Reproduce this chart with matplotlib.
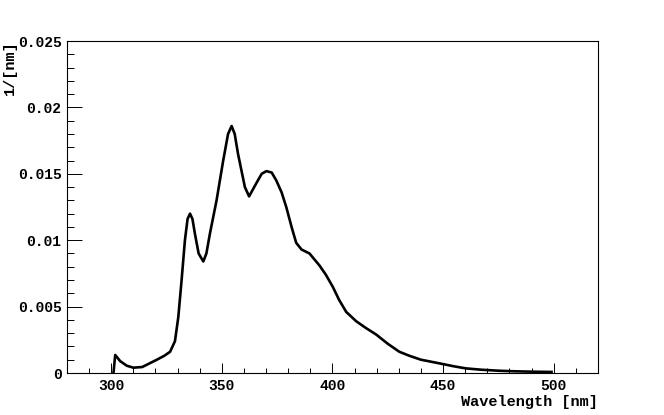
import matplotlib.pyplot as plt
from matplotlib.ticker import MultipleLocator

# ===== Daten =====
wavelength = [301, 301.8, 304, 307, 310, 314, 317, 320.6, 324, 326.6, 328.8, 330.3,
              331.8, 333.3, 334.5, 335.6, 336.7, 337.8, 339.5, 341.6, 343, 344.6,
              347.6, 350.6, 352.8, 354.4, 355.8, 357.3, 360.4, 362.3, 365.6, 368,
              370.1, 372.5, 374.6, 377, 379.1, 381.5, 383.6, 386, 389.6, 394.1, 397,
              400.1, 403, 406.2, 410.7, 415, 419.7, 425, 430.2, 434.7, 440, 448.2,
              455, 460.2, 467, 475.2, 482, 490, 499]
intensity = [0, 0.00136, 0.0009, 0.00055, 0.0004, 0.00045, 0.0007, 0.0010, 0.0013,
             0.0016, 0.0024, 0.0042, 0.0070, 0.0100, 0.0116, 0.0120, 0.0116, 0.0105,
             0.0090, 0.0084, 0.0090, 0.0105, 0.0130, 0.0160, 0.0180, 0.0186, 0.0180,
             0.0165, 0.0140, 0.0133, 0.0143, 0.0150, 0.0152, 0.0151, 0.0145, 0.0136,
             0.0125, 0.0110, 0.0098, 0.0093, 0.0090, 0.0081, 0.0074, 0.0065, 0.0055,
             0.0046, 0.0039, 0.0034, 0.0029, 0.0022, 0.0016, 0.0013, 0.0010, 0.00073,
             0.0005, 0.00035, 0.00025, 0.00017, 0.00013, 0.0001, 0.00008]

y_ticks = [0, 0.005, 0.01, 0.015, 0.02, 0.025]
y_tick_labels = ["0", "0.005", "0.01", "0.015", "0.02", "0.025"]
x_ticks = [300, 350, 400, 450, 500]

font = "Liberation Mono"

# ===== Plot =====
fig = plt.figure(figsize=(6.64, 4.15), dpi=100)
ax = fig.add_axes([0.1009, 0.1012, 0.7997, 0.8000])
ax.plot(wavelength, intensity, color="black", lw=1.9)

ax.set_xlim(280, 520)
ax.set_ylim(0, 0.025)

ax.set_xticks(x_ticks)
ax.xaxis.set_minor_locator(MultipleLocator(10))
ax.set_yticks(y_ticks)
ax.set_yticklabels(y_tick_labels)
ax.yaxis.set_minor_locator(MultipleLocator(0.001))

ax.tick_params(axis="both", which="both", direction="in", top=False, right=False,
               width=0.7, color="black")
ax.tick_params(axis="y", which="major", length=10.8, pad=4)
ax.tick_params(axis="y", which="minor", length=5)
ax.tick_params(axis="x", which="major", length=7.2, pad=4)
ax.tick_params(axis="x", which="minor", length=3.6)

for lab in ax.get_xticklabels() + ax.get_yticklabels():
    lab.set_fontfamily(font)
    lab.set_fontweight("bold")
    lab.set_fontsize(10.5)

for s in ax.spines.values():
    s.set_linewidth(0.8)

# ===== Achsenbeschriftung =====
ax.set_xlabel("Wavelength [nm]", fontfamily=font, fontweight="bold", fontsize=11)
ax.xaxis.set_label_coords(1.0, -0.065)
ax.xaxis.label.set_horizontalalignment("right")
ax.set_ylabel("1/[nm]", fontfamily=font, fontweight="bold", fontsize=11)
ax.yaxis.set_label_coords(-0.107, 1.003)
ax.yaxis.label.set_verticalalignment("center")
ax.yaxis.label.set_horizontalalignment("center")
ax.yaxis.label.set_rotation_mode("anchor")
ax.yaxis.label.set_horizontalalignment("right")

plt.savefig("out.png", dpi=100)
